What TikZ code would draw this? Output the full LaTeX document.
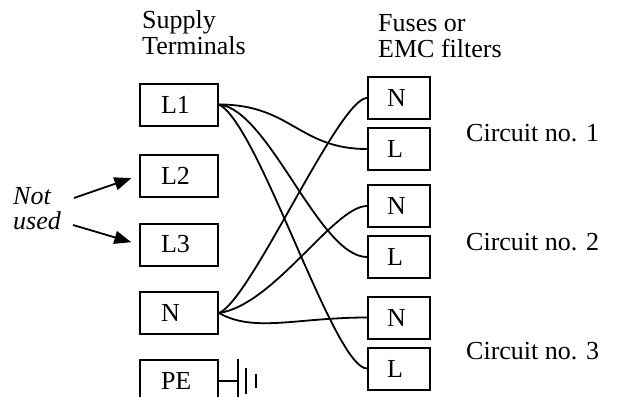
\documentclass[tikz,border=0pt]{standalone}
\usepackage{fontspec}
\setmainfont{Liberation Serif}
\usetikzlibrary{arrows.meta}
\begin{document}
\begin{tikzpicture}[x=1pt,y=-1pt,
  txt/.style={font=\fontsize{26}{27}\selectfont, inner sep=0pt, anchor=base west},
  itxt/.style={txt, font=\fontsize{26}{27}\selectfont\itshape},
  termbox/.style={draw, line width=2pt, minimum height=42pt, text width=36pt,
    inner xsep=21pt, inner ysep=0pt, align=left, font=\fontsize{26}{27}\selectfont},
  fusebox/.style={termbox, text width=24pt, inner xsep=19pt},
  wire/.style={line width=1.8pt},
  pointer/.style={line width=1.8pt, shorten >=8pt, -{Triangle[length=17pt,width=13pt]}},
  earth/.style={line width=1.8pt}
]
\useasboundingbox (0,0) rectangle (618,396);
\clip (0,0) rectangle (618,396);

% headings
\node[txt] (h1a) at (142,29) {Supply};
\node[txt] (h1b) at (142,55) {Terminals};
\node[txt] (h2a) at (378,32) {Fuses or};
\node[txt] (h2b) at (378,57) {EMC filters};

% supply terminals
\node[termbox] (tL1) at (179,104.5) {L1};
\node[termbox] (tL2) at (179,175.5) {L2};
\node[termbox] (tL3) at (179,244.5) {L3};
\node[termbox] (tN)  at (179,313) {N};
\node[termbox] (tPE) at (179,381) {PE};

% fuses / filters
\node[fusebox] (f1N) at (399,98) {N};
\node[fusebox] (f1L) at (399,149) {L};
\node[fusebox] (f2N) at (399,206) {N};
\node[fusebox] (f2L) at (399,257) {L};
\node[fusebox] (f3N) at (399,317.5) {N};
\node[fusebox] (f3L) at (399,368.5) {L};

% circuit labels
\node[txt] (c1) at (466,141) {Circuit no. 1};
\node[txt] (c2) at (466,250) {Circuit no. 2};
\node[txt] (c3) at (466,359) {Circuit no. 3};

% not used
\node[itxt] (nu1) at (13,204) {Not};
\node[itxt] (nu2) at (13,229) {used};
\coordinate (a1) at (74,198);
\coordinate (a2) at (73,225);
\draw[pointer] (a1) -- (tL2.west);
\draw[pointer] (a2) -- (tL3.west);

% wiring
\draw[wire] (tL1.east) .. controls +(72,0) and +(-68,0) .. (f1L.west);
\draw[wire] (tL1.east) .. controls +(50,5) and +(-48,0) .. (f2L.west);
\draw[wire] (tL1.east) .. controls +(40,20) and +(-33,0) .. (f3L.west);
\draw[wire] (tN.east) .. controls +(32,-13) and +(-28,0) .. (f1N.west);
\draw[wire] (tN.east) .. controls +(55,-8) and +(-33,0) .. (f2N.west);
\draw[wire] (tN.east) .. controls +(35,20) and +(-70,0) .. (f3N.west);

% protective earth symbol
\coordinate (g0) at (238,381);
\draw[earth] (tPE.east) -- (g0);
\draw[earth] (238,359) -- (238,403);
\draw[earth] (246,368) -- (246,394);
\draw[earth] (256,374) -- (256,388);
\end{tikzpicture}
\end{document}
